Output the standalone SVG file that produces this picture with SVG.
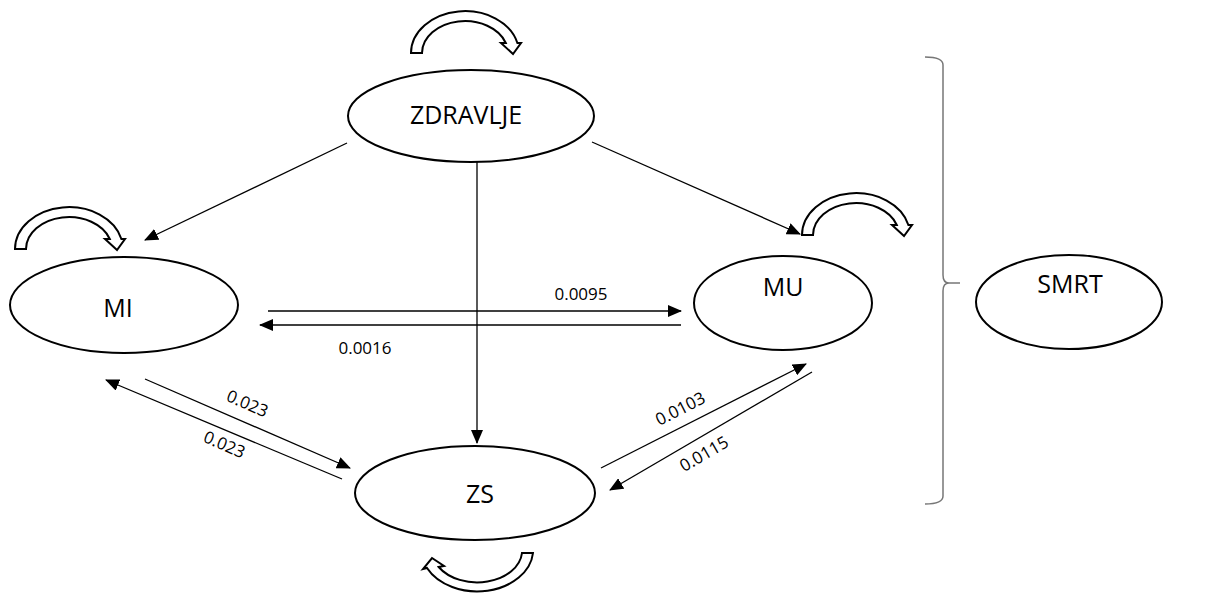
<svg xmlns="http://www.w3.org/2000/svg" width="1206" height="596" viewBox="0 0 1206 596">
<style>
.node{fill:#fff;stroke:#000;stroke-width:2}
.lbl{font-family:"Open Sans","Liberation Sans",sans-serif;font-size:25px;fill:#000;text-anchor:middle}
.num{font-family:"Open Sans","Liberation Sans",sans-serif;font-size:17px;fill:#000;text-anchor:middle}
.edge{stroke:#000;stroke-width:1.3;fill:none;marker-end:url(#ah)}
.loop{fill:#fff;stroke:#000;stroke-width:2;stroke-linejoin:miter}
</style>
<defs>
<marker id="ah" markerWidth="14" markerHeight="12" refX="13" refY="6" orient="auto" markerUnits="userSpaceOnUse">
<path d="M0,0 L14,6 L0,12 Z" fill="#000"/>
</marker>
<path id="loopR" d="M -54,0 A 54 42 0 0 1 52.4,-10 L 56,-10 L 48,1 L 36,-10 L 40.8,-10 A 43 32 0 0 0 -43,0 Z"/>
</defs>
<g id="connectors">
<line class="edge" x1="347" y1="143" x2="145" y2="240"/>
<line class="edge" x1="592" y1="142" x2="800" y2="234"/>
<line class="edge" x1="477" y1="162" x2="477" y2="443"/>
<line class="edge" x1="268" y1="311" x2="681" y2="311"/>
<line class="edge" x1="681" y1="325" x2="260" y2="325"/>
<line class="edge" x1="145" y1="379" x2="350" y2="468"/>
<line class="edge" x1="342" y1="479" x2="106" y2="380"/>
<line class="edge" x1="601" y1="468" x2="806" y2="364"/>
<line class="edge" x1="812" y1="372" x2="610" y2="490"/>
<text class="num" x="581" y="300">0.0095</text>
<text class="num" x="365" y="354">0.0016</text>
<text class="num" transform="translate(245,409) rotate(23.5)">0.023</text>
<text class="num" transform="translate(222,450) rotate(23.5)">0.023</text>
<text class="num" transform="translate(683,414) rotate(-27)">0.0103</text>
<text class="num" transform="translate(707,459) rotate(-30)">0.0115</text>
</g>
<g id="loops">
<use href="#loopR" class="loop" transform="translate(465,53)"/>
<use href="#loopR" class="loop" transform="translate(69,249)"/>
<use href="#loopR" class="loop" transform="translate(856,235)"/>
<path class="loop" d="M 533,553 A 56 42 0 0 1 427,568 L 423,569 L 432,558 L 444,566 L 438.7,567 A 45 32 0 0 0 522,553 Z"/>
</g>
<g id="brace">
<path d="M 925,57 Q 943,57 943,65 L 943,275 Q 943,283 949,283 L 960,283 M 949,283 Q 943,283 943,291 L 943,496 Q 943,504 925,504" fill="none" stroke="#777" stroke-width="1.5"/>
</g>
<g id="node-zdravlje">
<ellipse class="node" cx="471" cy="116" rx="123" ry="46"/>
<text class="lbl" x="466" y="124">ZDRAVLJE</text>
</g>
<g id="node-mi">
<ellipse class="node" cx="124" cy="305" rx="114" ry="48"/>
<text class="lbl" x="118" y="317">MI</text>
</g>
<g id="node-mu">
<ellipse class="node" cx="783" cy="303" rx="89" ry="47"/>
<text class="lbl" x="783" y="296">MU</text>
</g>
<g id="node-zs">
<ellipse class="node" cx="475" cy="493" rx="120" ry="47"/>
<text class="lbl" x="480" y="503">ZS</text>
</g>
<g id="node-smrt">
<ellipse class="node" cx="1069" cy="302" rx="93" ry="47"/>
<text class="lbl" x="1070" y="293">SMRT</text>
</g>
</svg>
